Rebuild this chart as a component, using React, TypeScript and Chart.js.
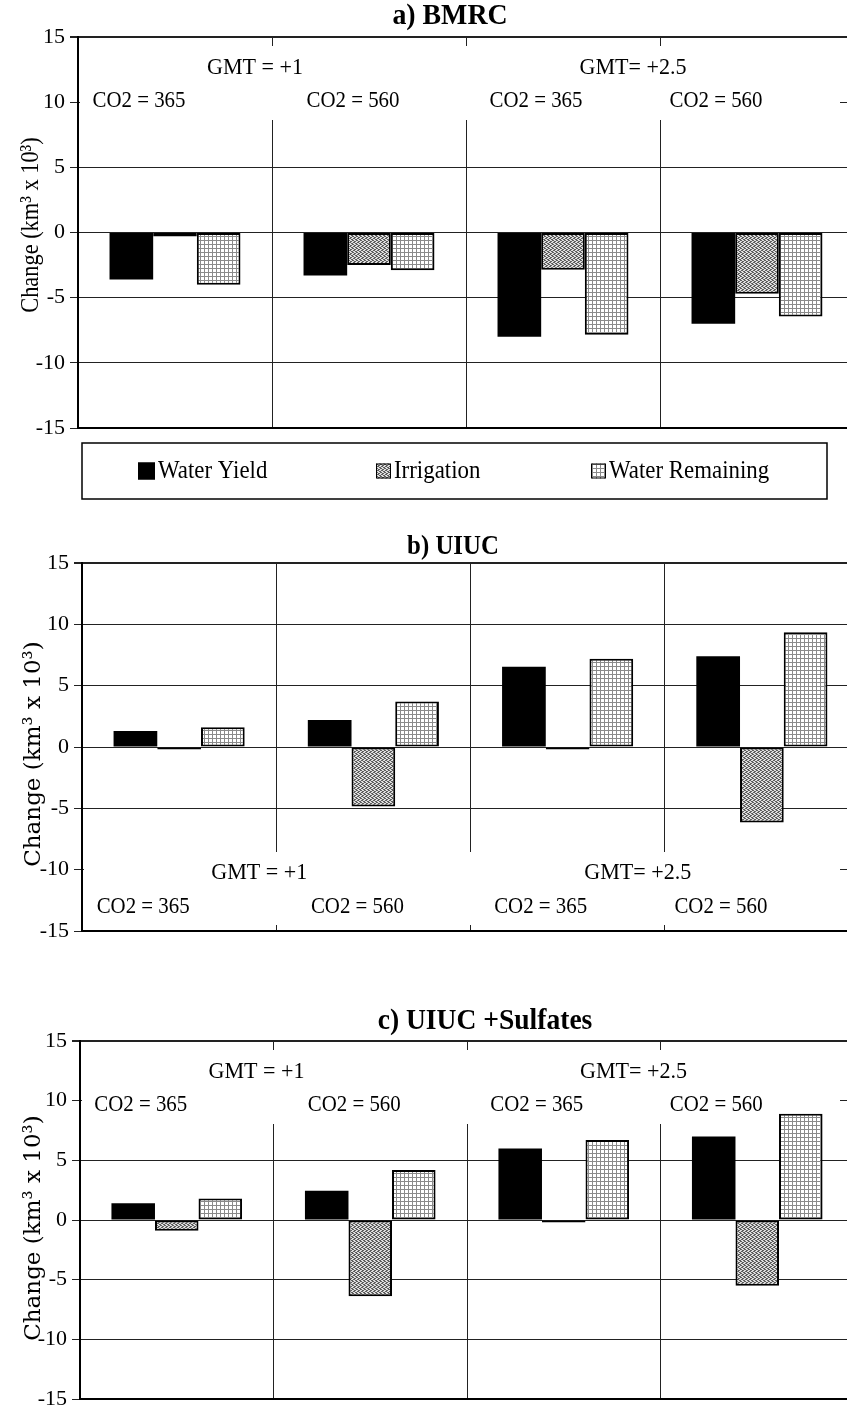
import React, { useEffect, useRef } from 'react';
import { Chart, registerables } from 'chart.js';

Chart.register(...registerables);

// ---------------- data ----------------
const categories = ['GMT +1, CO2 365', 'GMT +1, CO2 560', 'GMT +2.5, CO2 365', 'GMT +2.5, CO2 560'];
const seriesNames = ['Water Yield', 'Irrigation', 'Water Remaining'];

const bmrcYield = [-3.6, -3.3, -8.0, -7.0];
const bmrcIrrigation = [-0.3, -2.5, -2.85, -4.7];
const bmrcRemaining = [-4.0, -2.9, -7.85, -6.45];

const uiucYield = [1.3, 2.2, 6.55, 7.4];
const uiucIrrigation = [-0.2, -4.85, -0.2, -6.15];
const uiucRemaining = [1.6, 3.7, 7.2, 9.35];

const sulfYield = [1.4, 2.45, 6.0, 7.0];
const sulfIrrigation = [-0.9, -6.4, -0.2, -5.5];
const sulfRemaining = [1.8, 4.2, 6.7, 8.9];

const yTicks = [-15, -10, -5, 0, 5, 10, 15];
const gmtLabels = ['GMT = +1', 'GMT= +2.5'];
const co2Labels = ['CO2 = 365', 'CO2 = 560', 'CO2 = 365', 'CO2 = 560'];
const panelTitles = ['a) BMRC', 'b) UIUC', 'c) UIUC +Sulfates'];
const yAxisTitle = 'Change (km³ x 10³)';

// ---------------- layout ----------------
const SERIF = '"Liberation Serif", "Times New Roman", serif';
const WIDE_SERIF = '"DejaVu Serif", serif';

type Panel = {
  title: string;
  values: number[][];
  top: number;
  width: number;
  height: number;
  padTop: number;
  padBottom: number;
  axisW: number;
  labelPos: 'top' | 'bottom';
  legend: boolean;
  titleX: number;
  titleY: number;
  titleFont: string;
  titleScale: number;
  yTitleX: number;
  yTitleY: number;
  yTitleFont: string;
  yTitleScale: number;
};

const panels: Panel[] = [
  {
    title: panelTitles[0], values: [bmrcYield, bmrcIrrigation, bmrcRemaining],
    top: 0, width: 854, height: 505, padTop: 37, padBottom: 77, axisW: 78,
    labelPos: 'top', legend: true, titleX: 450, titleY: 17, titleFont: 'bold 29px ' + SERIF, titleScale: 0.96,
    yTitleX: 31, yTitleY: 225, yTitleFont: '26px ' + SERIF, yTitleScale: 0.86,
  },
  {
    title: panelTitles[1], values: [uiucYield, uiucIrrigation, uiucRemaining],
    top: 530, width: 859, height: 430, padTop: 33, padBottom: 29, axisW: 82,
    labelPos: 'bottom', legend: false, titleX: 453, titleY: 17, titleFont: 'bold 27px ' + SERIF, titleScale: 0.92,
    yTitleX: 34, yTitleY: 224, yTitleFont: '23px ' + WIDE_SERIF, yTitleScale: 1,
  },
  {
    title: panelTitles[2], values: [sulfYield, sulfIrrigation, sulfRemaining],
    top: 1005, width: 854, height: 430, padTop: 36, padBottom: 36, axisW: 80,
    labelPos: 'top', legend: false, titleX: 485, titleY: 17, titleFont: 'bold 29px ' + SERIF, titleScale: 0.95,
    yTitleX: 34, yTitleY: 223, yTitleFont: '23px ' + WIDE_SERIF, yTitleScale: 1,
  },
];

const co2Offsets = [-36, -16, -27, -41];
const gmtOffsets = [-17, -27];
const BOX_RIGHT = 840;
const legendX = [138, 376, 591];

function drawText(ctx: CanvasRenderingContext2D, text: string, x: number, y: number, font: string, sx: number, align: CanvasTextAlign = 'center') {
  ctx.save();
  ctx.translate(x, y);
  ctx.scale(sx, 1);
  ctx.font = font;
  ctx.textAlign = align;
  ctx.textBaseline = 'middle';
  ctx.fillStyle = '#000';
  ctx.fillText(text, 0, 0);
  ctx.restore();
}

function makeIrrigationPattern(): CanvasPattern | string {
  const c = document.createElement('canvas');
  c.width = 4; c.height = 4;
  const g = c.getContext('2d');
  if (!g) return '#999';
  g.fillStyle = '#dedede';
  g.fillRect(0, 0, 4, 4);
  g.fillStyle = '#5e5e5e';
  const dots = [[0, 0], [1, 0], [2, 1], [3, 1], [1, 2], [2, 2], [3, 3], [0, 3]];
  dots.forEach(([x, y]) => g.fillRect(x, y, 1, 1));
  const p = g.createPattern(c, 'repeat');
  return p || '#999';
}

function makeRemainingPattern(): CanvasPattern | string {
  const c = document.createElement('canvas');
  c.width = 4; c.height = 4;
  const g = c.getContext('2d');
  if (!g) return '#ddd';
  g.fillStyle = '#ffffff';
  g.fillRect(0, 0, 4, 4);
  g.fillStyle = '#8a8a8a';
  g.fillRect(0, 0, 4, 1);
  g.fillRect(0, 0, 1, 4);
  const p = g.createPattern(c, 'repeat');
  return p || '#ddd';
}

function panelPlugin(p: Panel) {
  return {
    id: 'panelDecor',
    beforeDatasetsDraw(chart: any) {
      const { ctx, chartArea, scales } = chart;
      const x = scales.x;
      ctx.save();
      // white label band covering grid lines
      ctx.fillStyle = '#ffffff';
      const left = chartArea.left + 2;
      if (p.labelPos === 'top') {
        ctx.fillRect(left, chartArea.top + 9, BOX_RIGHT - left, 74);
      } else {
        ctx.fillRect(left, chartArea.bottom - 79, BOX_RIGHT - left, 73);
      }
      const gmtY = p.labelPos === 'top' ? chartArea.top + 31 : chartArea.bottom - 58;
      const co2Y = p.labelPos === 'top' ? chartArea.top + 64 : chartArea.bottom - 24;
      gmtLabels.forEach((t, i) => {
        const b = (x.getPixelForValue(i * 2) + x.getPixelForValue(i * 2 + 1)) / 2;
        drawText(ctx, t, b + gmtOffsets[i], gmtY, '24px ' + SERIF, 0.92);
      });
      co2Labels.forEach((t, i) => {
        drawText(ctx, t, x.getPixelForValue(i) + co2Offsets[i], co2Y, '24px ' + SERIF, 0.87);
      });
      ctx.restore();
    },
    afterDraw(chart: any) {
      const { ctx, chartArea } = chart;
      ctx.save();
      drawText(ctx, p.title, p.titleX, p.titleY, p.titleFont, p.titleScale);
      // y axis title (rotated)
      ctx.save();
      ctx.translate(p.yTitleX, p.yTitleY);
      ctx.rotate(-Math.PI / 2);
      ctx.scale(p.yTitleScale, 1);
      ctx.font = p.yTitleFont;
      ctx.textAlign = 'center';
      ctx.textBaseline = 'middle';
      ctx.fillStyle = '#000';
      ctx.fillText(yAxisTitle, 0, 0);
      ctx.restore();
      if (p.legend) {
        const boxTop = chartArea.bottom + 15;
        ctx.lineWidth = 1.5;
        ctx.strokeStyle = '#000';
        ctx.strokeRect(82, boxTop, 745, 56);
        const cy = boxTop + 28;
        chart.data.datasets.forEach((ds: any, i: number) => {
          const sx = legendX[i];
          const sz = i === 0 ? 17 : 15;
          ctx.fillStyle = ds.backgroundColor;
          ctx.fillRect(sx, cy - sz / 2, sz, sz);
          ctx.lineWidth = 1;
          ctx.strokeStyle = '#000';
          ctx.strokeRect(sx + 0.5, cy - sz / 2 + 0.5, sz - 1, sz - 1);
          drawText(ctx, ds.label, sx + sz + 3, cy, '26px ' + SERIF, 0.88, 'left');
        });
      }
      ctx.restore();
    },
  };
}

function PanelChart({ p }: { p: Panel }) {
  const ref = useRef<HTMLCanvasElement | null>(null);
  useEffect(() => {
    if (!ref.current) return;
    const irr = makeIrrigationPattern();
    const rem = makeRemainingPattern();
    const chart = new Chart(ref.current, {
      type: 'bar',
      data: {
        labels: categories,
        datasets: [
          { label: seriesNames[0], data: p.values[0], backgroundColor: '#000', borderColor: '#000', borderWidth: 0 },
          { label: seriesNames[1], data: p.values[1], backgroundColor: irr as any, borderColor: '#000', borderWidth: 2, borderSkipped: false },
          { label: seriesNames[2], data: p.values[2], backgroundColor: rem as any, borderColor: '#000', borderWidth: 2, borderSkipped: false },
        ],
      },
      options: {
        responsive: false,
        animation: false,
        devicePixelRatio: 1,
        layout: { padding: { top: p.padTop, bottom: p.padBottom, left: 0, right: 0 } },
        datasets: { bar: { barPercentage: 1, categoryPercentage: 0.675 } } as any,
        plugins: { legend: { display: false }, tooltip: { enabled: false }, title: { display: false } },
        scales: {
          x: {
            type: 'category',
            grid: { offset: true, color: '#222', lineWidth: 1, drawTicks: false },
            border: { display: true, color: '#000', width: 2 },
            ticks: { display: false },
            afterFit: (s: any) => { s.height = 0; },
          },
          y: {
            min: -15,
            max: 15,
            afterBuildTicks: (s: any) => { s.ticks = yTicks.map((v) => ({ value: v })); },
            afterFit: (s: any) => { s.width = p.axisW; },
            grid: {
              color: '#222',
              lineWidth: (c: any) => (c.tick && c.tick.value === 15 ? 2 : 1),
              tickLength: 8,
            },
            border: { display: true, color: '#000', width: 2 },
            ticks: { font: { family: SERIF, size: 22 }, color: '#000', padding: 5 },
          },
        },
      },
      plugins: [panelPlugin(p)],
    });
    return () => chart.destroy();
  }, [p]);
  return (
    <canvas
      ref={ref}
      width={p.width}
      height={p.height}
      style={{ position: 'absolute', left: 0, top: p.top, display: 'block' }}
    />
  );
}

export default function App() {
  return (
    <div style={{ position: 'absolute', left: 0, top: 0, width: 847, height: 1409, overflow: 'hidden', background: '#fff' }}>
      {panels.map((p, i) => (
        <PanelChart key={i} p={p} />
      ))}
    </div>
  );
}
